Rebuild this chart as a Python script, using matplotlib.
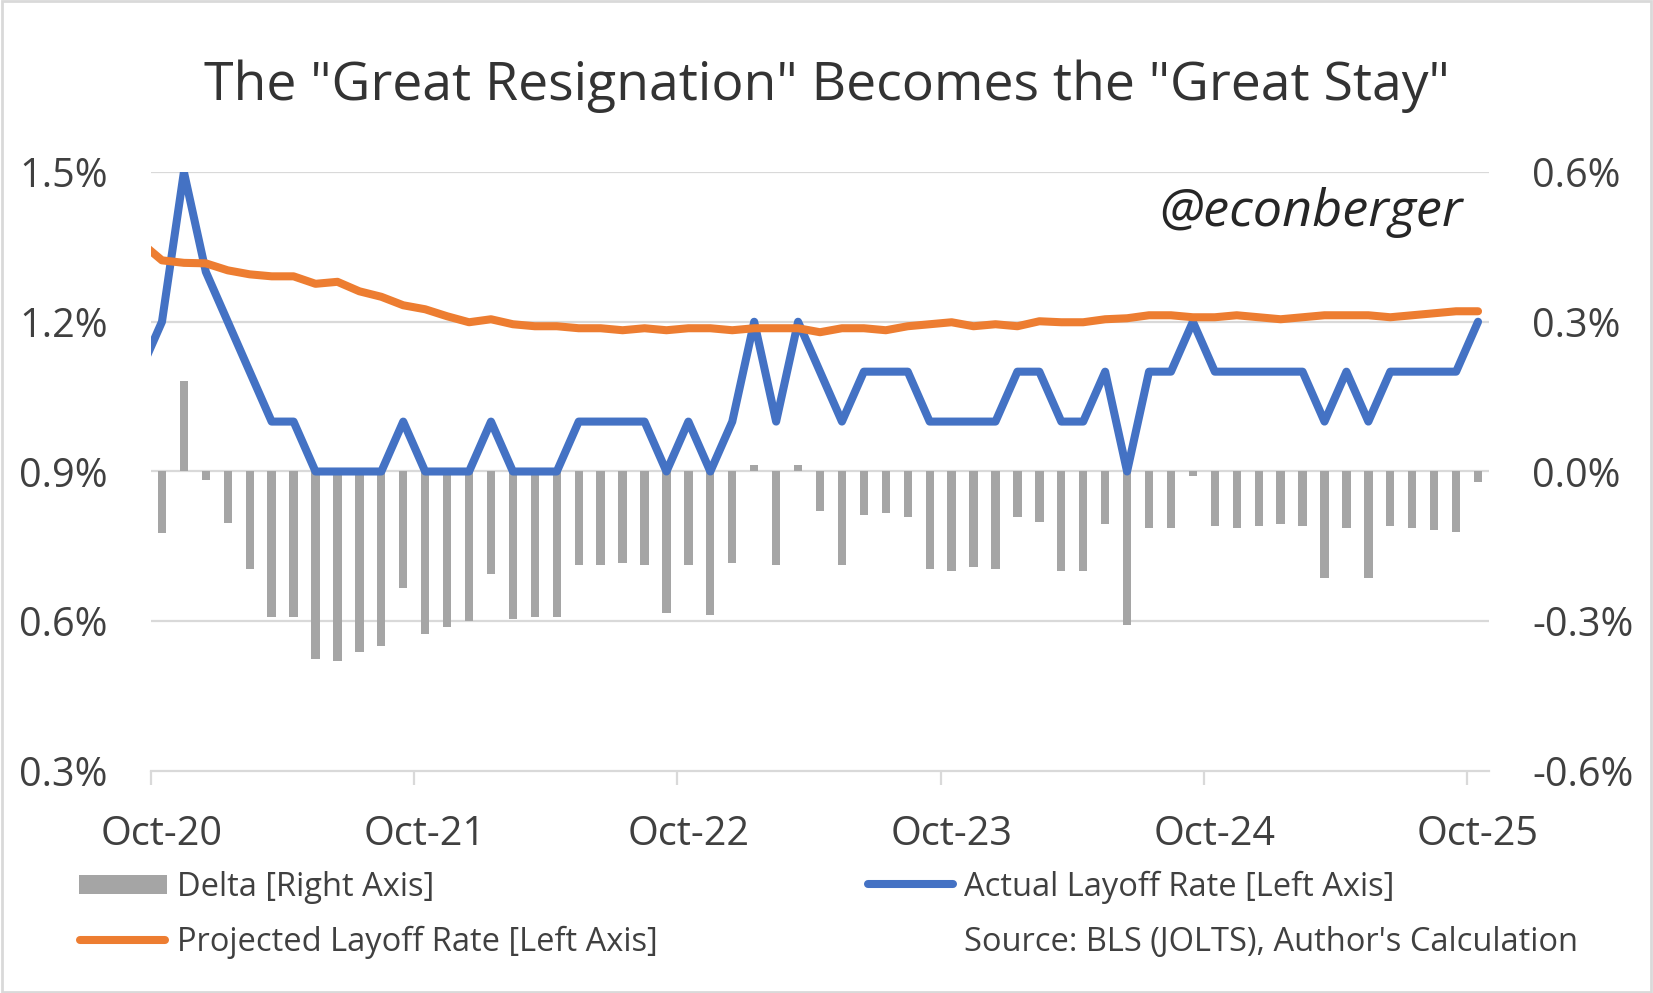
import numpy as np
import pandas as pd
import matplotlib
matplotlib.use("Agg")
import matplotlib.pyplot as plt
from matplotlib.patches import Rectangle
from matplotlib.lines import Line2D

# ---------------- data ----------------
# first entry (Sep-20) lies just outside the visible window (only the line stub shows)
months = pd.date_range("2020-09-01", "2025-10-01", freq="MS").strftime("%b-%y").tolist()

actual = [1.1,
          1.2, 1.5, 1.3, 1.2, 1.1, 1.0, 1.0, 0.9, 0.9, 0.9, 0.9, 1.0,
          0.9, 0.9, 0.9, 1.0, 0.9, 0.9, 0.9, 1.0, 1.0, 1.0, 1.0, 0.9,
          1.0, 0.9, 1.0, 1.2, 1.0, 1.2, 1.1, 1.0, 1.1, 1.1, 1.1, 1.0,
          1.0, 1.0, 1.0, 1.1, 1.1, 1.0, 1.0, 1.1, 0.9, 1.1, 1.1, 1.2,
          1.1, 1.1, 1.1, 1.1, 1.1, 1.0, 1.1, 1.0, 1.1, 1.1, 1.1, 1.1,
          1.2]

projected = [1.36,
             1.323, 1.318, 1.317, 1.303, 1.295, 1.291, 1.291, 1.276, 1.280, 1.261, 1.250, 1.233,
             1.225, 1.211, 1.199, 1.205, 1.195, 1.191, 1.191, 1.187, 1.187, 1.183, 1.187, 1.183,
             1.187, 1.187, 1.183, 1.187, 1.187, 1.187, 1.179, 1.187, 1.187, 1.183, 1.191, 1.195,
             1.199, 1.191, 1.195, 1.191, 1.201, 1.199, 1.199, 1.205, 1.207, 1.213, 1.213, 1.209,
             1.209, 1.213, 1.209, 1.205, 1.209, 1.213, 1.213, 1.213, 1.209, 1.213, 1.217, 1.221,
             1.221]

delta = [-0.26,
         -0.123, 0.182, -0.017, -0.103, -0.195, -0.291, -0.291, -0.376, -0.380, -0.361, -0.350, -0.233,
         -0.325, -0.311, -0.299, -0.205, -0.295, -0.291, -0.291, -0.187, -0.187, -0.183, -0.187, -0.283,
         -0.187, -0.287, -0.183, 0.013, -0.187, 0.013, -0.079, -0.187, -0.087, -0.083, -0.091, -0.195,
         -0.199, -0.191, -0.195, -0.091, -0.101, -0.199, -0.199, -0.105, -0.307, -0.113, -0.113, -0.009,
         -0.109, -0.113, -0.109, -0.105, -0.109, -0.213, -0.113, -0.213, -0.109, -0.113, -0.117, -0.121,
         -0.021]

left_ticks = [0.3, 0.6, 0.9, 1.2, 1.5]
right_ticks = [-0.6, -0.3, 0.0, 0.3, 0.6]

title = 'The "Great Resignation" Becomes the "Great Stay"'

# ---------------- style ----------------
plt.rcParams["font.family"] = ["Open Sans", "DejaVu Sans"]
TXT = "#404040"
GRID = "#d9d9d9"
BLUE = "#4472C4"
ORANGE = "#ED7D31"
GRAY = "#A5A5A5"

W, H = 1653, 993
fig = plt.figure(figsize=(W / 100, H / 100), dpi=100)
fig.patch.set_facecolor("white")

L, R, T, B = 151, 1489, 172, 771
rect = [L / W, 1 - B / H, (R - L) / W, (B - T) / H]
ax2 = fig.add_axes(rect)            # right axis (bars, grid)
ax = fig.add_axes(rect)             # left axis (lines)
ax.set_zorder(2)
ax2.set_zorder(1)
ax.patch.set_visible(False)

x = np.arange(len(months))
xlim = (0.5, len(months) - 0.5)

# bars on right axis
ax2.bar(x, delta, width=0.38, color=GRAY, zorder=3)
ax2.set_ylim(-0.6, 0.6)
ax2.set_xlim(*xlim)
for yv in right_ticks[1:]:
    ax2.axhline(yv, color=GRID, lw=1.6, zorder=1)
ax2.set_xticks([])

# lines on left axis
ax.plot(x, actual, color=BLUE, lw=5.8, solid_joinstyle="round", solid_capstyle="round", zorder=3)
ax.plot(x, projected, color=ORANGE, lw=5.8, solid_joinstyle="round", solid_capstyle="round", zorder=4)
ax.set_ylim(0.3, 1.5)
ax.set_xlim(*xlim)

# y tick labels
ax.set_yticks(left_ticks)
ax.set_yticklabels([f"{v:.1f}%" for v in left_ticks])
ax2.set_yticks(right_ticks)
ax2.set_yticklabels([f"{v:.1f}%" for v in right_ticks])
ax.yaxis.set_ticks_position("left")
ax2.yaxis.set_ticks_position("right")
ax.tick_params(axis="y", length=0, pad=31, labelsize=28.5, colors=TXT)
ax2.tick_params(axis="y", length=0, pad=31, labelsize=28.5, colors=TXT)

# x axis: boundary ticks every 12 months, labels at October centres
oct_idx = [i for i, m in enumerate(months) if m.startswith("Oct")]
ax.set_xticks([i - 0.5 for i in oct_idx])
ax.set_xticklabels([])
ax.set_xticks(oct_idx, minor=True)
ax.set_xticklabels([months[i] for i in oct_idx], minor=True)
ax.tick_params(axis="x", which="major", length=10, width=1.6, color=GRID, direction="out")
ax.tick_params(axis="x", which="minor", length=0, pad=31, labelsize=28.5, labelcolor=TXT)

for a in (ax, ax2):
    for s in a.spines.values():
        s.set_visible(False)
ax.spines["bottom"].set_visible(True)
ax.spines["bottom"].set_color(GRID)
ax.spines["bottom"].set_linewidth(1.6)

# title and watermark
fig.text(0.5, 1 - 100 / H, title, ha="center", va="baseline", fontsize=38.5, color="#333333")
fig.text(1463 / W, 1 - 226 / H, "@econberger", ha="right", va="baseline",
         fontsize=37.5, style="italic", color="#262626")

# legend (manual)
fig.patches.append(Rectangle((79 / W, 1 - 894 / H), 88 / W, 19 / H, transform=fig.transFigure,
                             facecolor=GRAY, edgecolor="none"))
fig.lines.append(Line2D([868 / W, 953 / W], [1 - 884 / H] * 2, transform=fig.transFigure,
                        color=BLUE, lw=5.8, solid_capstyle="round"))
fig.lines.append(Line2D([80 / W, 165 / W], [1 - 940 / H] * 2, transform=fig.transFigure,
                        color=ORANGE, lw=5.8, solid_capstyle="round"))
LS = 23.5
fig.text(177 / W, 1 - 896 / H, "Delta [Right Axis]", ha="left", va="baseline", fontsize=LS, color=TXT)
fig.text(964 / W, 1 - 896 / H, "Actual Layoff Rate [Left Axis]", ha="left", va="baseline", fontsize=LS, color=TXT)
fig.text(177 / W, 1 - 951 / H, "Projected Layoff Rate [Left Axis]", ha="left", va="baseline", fontsize=LS, color=TXT)
fig.text(964 / W, 1 - 951 / H, "Source: BLS (JOLTS), Author's Calculation", ha="left", va="baseline", fontsize=LS, color=TXT)

# outer frame
fig.patches.append(Rectangle((0.001, 0.0015), 0.998, 0.997, transform=fig.transFigure,
                             fill=False, edgecolor=GRID, lw=2))

fig.savefig("out.png", dpi=100, facecolor="white")
